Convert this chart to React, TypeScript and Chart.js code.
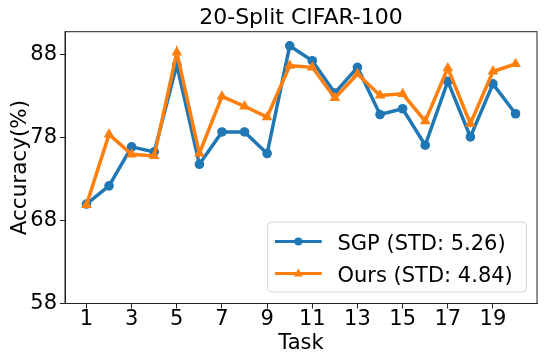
import React, { useEffect, useRef } from "react";
import { Chart, registerables } from "chart.js";

Chart.register(...registerables);

const tasks = [1, 2, 3, 4, 5, 6, 7, 8, 9, 10, 11, 12, 13, 14, 15, 16, 17, 18, 19, 20];
const sgpAcc = [70.0, 72.2, 76.9, 76.3, 86.8, 74.8, 78.7, 78.7, 76.1, 89.1, 87.3, 83.4, 86.5, 80.8, 81.5, 77.1, 84.8, 78.1, 84.5, 80.9];
const oursAcc = [69.9, 78.4, 76.0, 75.8, 88.3, 76.1, 83.0, 81.8, 80.5, 86.7, 86.5, 82.8, 85.7, 83.1, 83.3, 80.0, 86.4, 79.7, 86.0, 86.9];
const xTicks = [1, 3, 5, 7, 9, 11, 13, 15, 17, 19];
const yTicks = [58, 68, 78, 88];
const seriesLabels = ["SGP (STD: 5.26)", "Ours (STD: 4.84)"];
const chartTitle = "20-Split CIFAR-100";
const xTitle = "Task";
const yTitle = "Accuracy(%)";

const BLUE = "#1f77b4";
const ORANGE = "#ff7f0e";
const FONT = '"DejaVu Sans", sans-serif';

const decorPlugin = {
  id: "decor",
  afterDraw(chart: any) {
    const { ctx, chartArea } = chart;
    const { left, right, top, bottom } = chartArea;
    ctx.save();
    // frame
    ctx.strokeStyle = "#222";
    ctx.lineWidth = 1;
    ctx.strokeRect(left, top, right - left, bottom - top);

    // title
    ctx.fillStyle = "#000";
    ctx.font = `22px ${FONT}`;
    ctx.textAlign = "center";
    ctx.textBaseline = "alphabetic";
    ctx.fillText(chartTitle, (left + right) / 2, 23.5);

    // x title
    ctx.font = `21px ${FONT}`;
    ctx.fillText(xTitle, (left + right) / 2, 348.8);

    // y title
    ctx.save();
    ctx.translate(25.5, (top + bottom) / 2);
    ctx.rotate(-Math.PI / 2);
    ctx.font = `21.5px ${FONT}`;
    ctx.fillText(yTitle, 0, 0);
    ctx.restore();

    // legend
    const bx = 267.7, by = 222, bw = 258.8, bh = 70;
    ctx.beginPath();
    (ctx as any).roundRect(bx, by, bw, bh, 4);
    ctx.fillStyle = "rgba(255,255,255,0.8)";
    ctx.fill();
    ctx.strokeStyle = "#d6d6d6";
    ctx.lineWidth = 1;
    ctx.stroke();

    const lineRows = [241.5, 273.5];
    const textRows = [250, 282];
    const colors = [BLUE, ORANGE];
    lineRows.forEach((ry, i) => {
      ctx.strokeStyle = colors[i];
      ctx.lineWidth = 3;
      ctx.beginPath();
      ctx.moveTo(275, ry);
      ctx.lineTo(321.7, ry);
      ctx.stroke();
      ctx.fillStyle = colors[i];
      ctx.beginPath();
      if (i === 0) {
        ctx.arc(298.3, ry, 4, 0, Math.PI * 2);
      } else {
        ctx.moveTo(298.3, ry - 5);
        ctx.lineTo(302.8, ry + 3);
        ctx.lineTo(293.8, ry + 3);
        ctx.closePath();
      }
      ctx.fill();
      ctx.fillStyle = "#000";
      ctx.font = `21px ${FONT}`;
      ctx.textAlign = "left";
      ctx.textBaseline = "alphabetic";
      ctx.fillText(seriesLabels[i], 337.5, textRows[i]);
    });
    ctx.restore();
  },
};

export default function App() {
  const canvasRef = useRef<HTMLCanvasElement | null>(null);

  useEffect(() => {
    if (!canvasRef.current) return;
    const chart = new Chart(canvasRef.current, {
      type: "line",
      data: {
        datasets: [
          {
            label: seriesLabels[0],
            data: tasks.map((t, i) => ({ x: t, y: sgpAcc[i] })),
            borderColor: BLUE,
            backgroundColor: BLUE,
            borderWidth: 3.5,
            pointStyle: "circle",
            pointRadius: 4.8,
            pointBorderWidth: 0,
            tension: 0,
            order: 1,
          },
          {
            label: seriesLabels[1],
            data: tasks.map((t, i) => ({ x: t, y: oursAcc[i] })),
            borderColor: ORANGE,
            backgroundColor: ORANGE,
            borderWidth: 3.5,
            pointStyle: "triangle",
            pointRadius: 6.2,
            pointBorderWidth: 0,
            tension: 0,
            order: 0,
          },
        ],
      },
      options: {
        animation: false,
        responsive: true,
        maintainAspectRatio: false,
        layout: { padding: { left: 0, right: 8, top: 31.7, bottom: 0 } },
        plugins: {
          legend: { display: false },
          title: { display: false },
          tooltip: { enabled: false },
        },
        scales: {
          x: {
            type: "linear",
            min: 0.05,
            max: 20.95,
            afterBuildTicks: (scale: any) => {
              scale.ticks = xTicks.map((v) => ({ value: v }));
            },
            afterFit: (scale: any) => {
              scale.height = 59.5;
            },
            grid: {
              drawOnChartArea: false,
              drawTicks: true,
              tickLength: 5,
              color: "#222",
            },
            border: { display: true, color: "#222", width: 1 },
            ticks: {
              autoSkip: false,
              maxRotation: 0,
              padding: -1.5,
              color: "#000",
              font: { family: FONT, size: 21 },
              callback: (v: any) => String(v),
            },
          },
          y: {
            type: "linear",
            min: 58,
            max: 90.8,
            afterBuildTicks: (scale: any) => {
              scale.ticks = yTicks.map((v) => ({ value: v }));
            },
            afterFit: (scale: any) => {
              scale.width = 65;
            },
            grid: {
              drawOnChartArea: false,
              drawTicks: true,
              tickLength: 5,
              color: "#222",
            },
            border: { display: true, color: "#222", width: 1 },
            ticks: {
              padding: 3,
              color: "#000",
              font: { family: FONT, size: 21 },
              callback: (v: any) => String(v),
            },
          },
        },
      },
      plugins: [decorPlugin],
    });
    return () => chart.destroy();
  }, []);

  return (
    <div style={{ position: "fixed", left: 0, top: 0, width: 545, height: 363, background: "#fff" }}>
      <canvas ref={canvasRef} />
    </div>
  );
}
